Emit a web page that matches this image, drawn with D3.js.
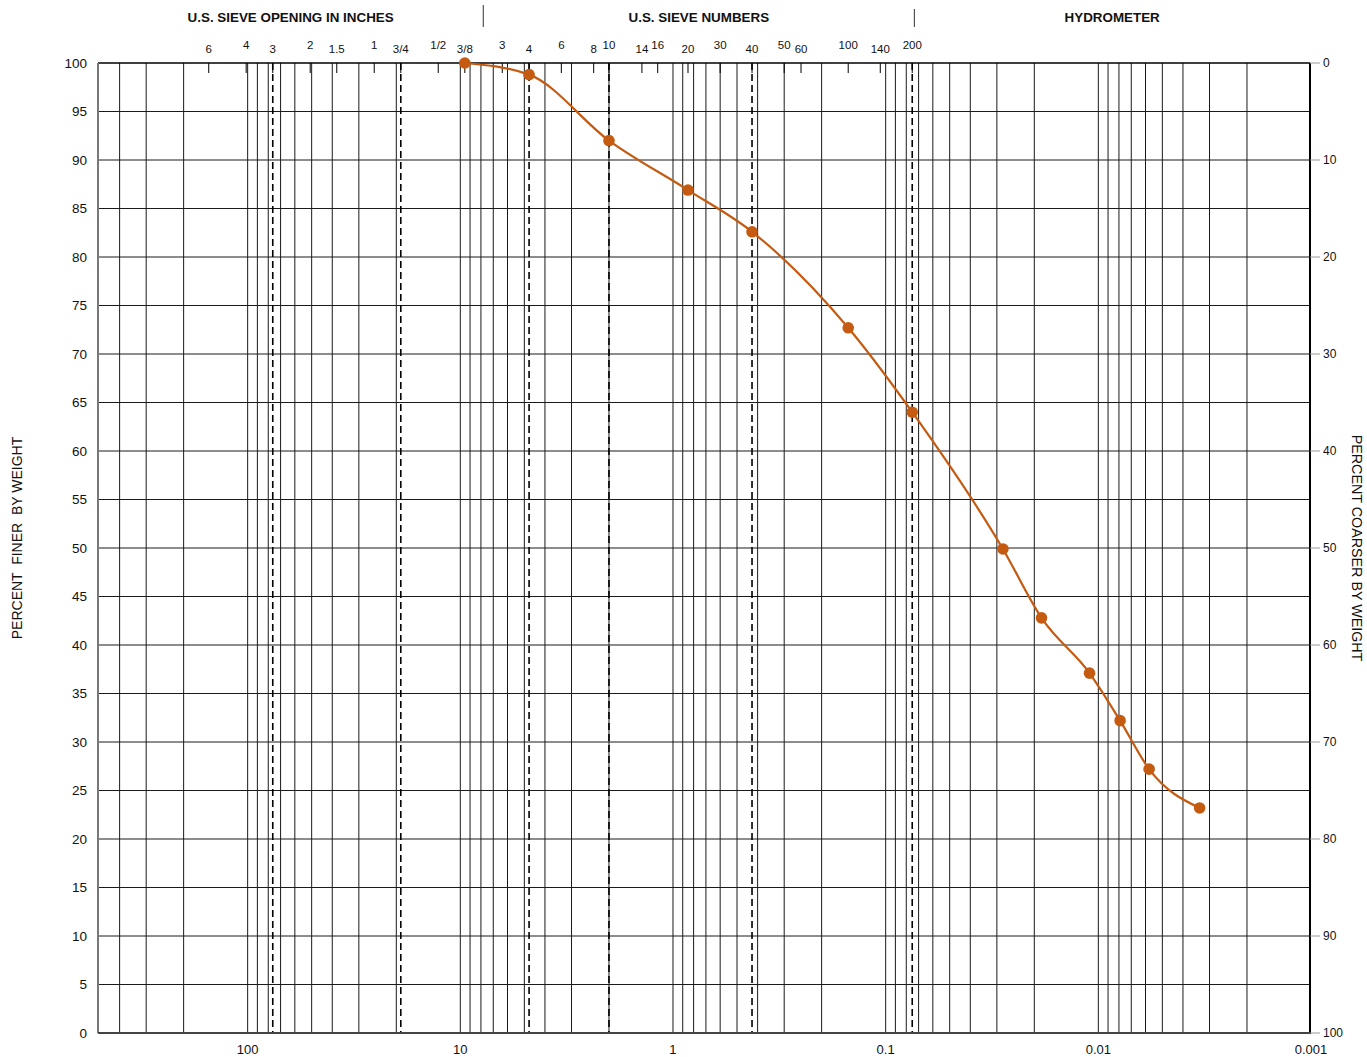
<!DOCTYPE html>
<html>
<head>
<meta charset="utf-8">
<script src="https://cdn.jsdelivr.net/npm/d3@7"></script>
<style>
  body { margin: 0; background: #fff; }
  svg { font-family: "Liberation Sans", Arial, sans-serif; }
</style>
</head>
<body>
<div id="chart"></div>
<script>
// grain size data (mm) and percent finer
const sieveDiam = [9.525, 4.75, 2.0, 0.85, 0.425, 0.15, 0.075];
const sievePassing = [100, 98.8, 92.0, 86.9, 82.6, 72.7, 64.0];
const hydroDiam = [0.0281, 0.0185, 0.0110, 0.0079, 0.00577, 0.00334];
const hydroPassing = [49.9, 42.8, 37.1, 32.2, 27.2, 23.2];

// sieve tick marks along the top
const sieveLabels = ["6", "4", "3", "2", "1.5", "1", "3/4", "1/2", "3/8", "3", "4", "6", "8", "10", "14", "16", "20", "30", "40", "50", "60", "100", "140", "200"];
const sieveSizes = [152.4, 101.6, 76.2, 50.8, 38.1, 25.4, 19.05, 12.7, 9.525, 6.35, 4.75, 3.35, 2.36, 2.0, 1.4, 1.18, 0.85, 0.6, 0.425, 0.3, 0.25, 0.15, 0.106, 0.075];
const dashedSizes = [76.2, 19.05, 4.75, 2.0, 0.425, 0.075];

const headerLabels = ["U.S. SIEVE OPENING IN INCHES", "U.S. SIEVE NUMBERS", "HYDROMETER"];
const headerBreaks = [7.8, 0.0733];

const bottomTicks = [100, 10, 1, 0.1, 0.01, 0.001];
const leftTicks = d3.range(0, 101, 5);
const rightTicks = d3.range(0, 101, 10);

const width = 1367, height = 1057;
const margin = { top: 63, right: 57, bottom: 24, left: 98 };
const x0 = margin.left, x1 = width - margin.right;
const y0 = margin.top, y1 = height - margin.bottom;

const svg = d3.select("#chart").append("svg")
    .attr("width", width)
    .attr("height", height);

const xScale = d3.scaleLog().domain([500, 0.001]).range([x0 + 1, x1 + 1]);
const yScale = d3.scaleLinear().domain([0, 100]).range([y1, y0]);
const yRight = d3.scaleLinear().domain([0, 100]).range([y0, y1]);

// vertical gridlines at 1..9 x 10^k
const gridX = [];
for (let k = -3; k <= 2; k++) {
    for (let m = 1; m <= 9; m++) {
        const v = m * Math.pow(10, k);
        if (v < 500 && v > 0.001) gridX.push(v);
    }
}

svg.append("g").selectAll("line")
    .data(gridX)
    .enter().append("line")
    .attr("x1", d => xScale(d)).attr("x2", d => xScale(d))
    .attr("y1", y0).attr("y2", y1)
    .attr("stroke", "#1a1a1a")
    .attr("stroke-width", 1);

// horizontal gridlines
svg.append("g").selectAll("line")
    .data(leftTicks.filter(d => d > 0 && d < 100))
    .enter().append("line")
    .attr("x1", x0).attr("x2", x1)
    .attr("y1", d => yScale(d)).attr("y2", d => yScale(d))
    .attr("stroke", "#1a1a1a")
    .attr("stroke-width", 1);

// dashed sieve lines
svg.append("g").selectAll("line")
    .data(dashedSizes)
    .enter().append("line")
    .attr("x1", d => xScale(d)).attr("x2", d => xScale(d))
    .attr("y1", y0).attr("y2", y1)
    .attr("stroke", "#000")
    .attr("stroke-width", 1.6)
    .attr("stroke-dasharray", "7,4");

// top border
svg.append("line")
    .attr("x1", x0).attr("x2", x1)
    .attr("y1", y0).attr("y2", y0)
    .attr("stroke", "#000").attr("stroke-width", 1.5);

// sieve ticks along top
svg.append("g").selectAll("line")
    .data(sieveSizes)
    .enter().append("line")
    .attr("x1", d => xScale(d)).attr("x2", d => xScale(d))
    .attr("y1", y0).attr("y2", y0 + 10)
    .attr("stroke", "#000").attr("stroke-width", 1);

svg.append("g").selectAll("text")
    .data(sieveSizes)
    .enter().append("text")
    .attr("x", d => xScale(d))
    .attr("y", (d, i) => i % 2 === 0 ? 53 : 49)
    .attr("text-anchor", "middle")
    .attr("font-size", 11.5)
    .attr("fill", "#111")
    .text((d, i) => sieveLabels[i]);

// header separators and titles
svg.append("g").selectAll("line")
    .data(headerBreaks)
    .enter().append("line")
    .attr("x1", d => xScale(d)).attr("x2", d => xScale(d))
    .attr("y1", (d, i) => i === 0 ? 5 : 9).attr("y2", 27)
    .attr("stroke", "#333").attr("stroke-width", 1);

const edges = [x0, xScale(headerBreaks[0]), xScale(headerBreaks[1]), x1];
svg.append("g").selectAll("text")
    .data(headerLabels)
    .enter().append("text")
    .attr("x", (d, i) => (edges[i] + edges[i + 1]) / 2)
    .attr("y", 22)
    .attr("text-anchor", "middle")
    .attr("font-size", 13.4)
    .attr("font-weight", "bold")
    .attr("fill", "#111")
    .text(d => d);

// left axis
svg.append("line")
    .attr("x1", x0).attr("x2", x0).attr("y1", y0).attr("y2", y1)
    .attr("stroke", "#777").attr("stroke-width", 2);

svg.append("g").selectAll("text")
    .data(leftTicks)
    .enter().append("text")
    .attr("x", x0 - 11)
    .attr("y", d => yScale(d))
    .attr("dy", "0.35em")
    .attr("text-anchor", "end")
    .attr("font-size", 13.5)
    .attr("fill", "#111")
    .text(d => d);

svg.append("text")
    .attr("transform", `translate(22, ${(y0 + y1) / 2 - 10}) rotate(-90)`)
    .attr("text-anchor", "middle")
    .attr("font-size", 14)
    .attr("fill", "#111")
    .attr("xml:space", "preserve")
    .text("PERCENT  FINER  BY WEIGHT");

// right axis
svg.append("line")
    .attr("x1", x1).attr("x2", x1).attr("y1", y0).attr("y2", y1 + 1)
    .attr("stroke", "#000").attr("stroke-width", 2);

svg.append("g").selectAll("line")
    .data(rightTicks)
    .enter().append("line")
    .attr("x1", x1).attr("x2", x1 + 10)
    .attr("y1", d => yRight(d)).attr("y2", d => yRight(d))
    .attr("stroke", "#999").attr("stroke-width", 1);

svg.append("g").selectAll("text")
    .data(rightTicks)
    .enter().append("text")
    .attr("x", x1 + 13)
    .attr("y", d => yRight(d))
    .attr("dy", "0.35em")
    .attr("font-size", 12)
    .attr("fill", "#111")
    .text(d => d);

svg.append("text")
    .attr("transform", `translate(1352, ${(y0 + y1) / 2}) rotate(90)`)
    .attr("text-anchor", "middle")
    .attr("font-size", 14.3)
    .attr("fill", "#111")
    .text("PERCENT COARSER BY WEIGHT");

// bottom axis
svg.append("line")
    .attr("x1", x0).attr("x2", x1).attr("y1", y1).attr("y2", y1)
    .attr("stroke", "#444").attr("stroke-width", 2);

svg.append("g").selectAll("text")
    .data(bottomTicks)
    .enter().append("text")
    .attr("x", d => xScale(d))
    .attr("y", y1 + 21)
    .attr("text-anchor", "middle")
    .attr("font-size", 13)
    .attr("fill", "#111")
    .text(d => d);

// gradation curve
const points = sieveDiam.map((d, i) => ({ d: d, p: sievePassing[i] }))
    .concat(hydroDiam.map((d, i) => ({ d: d, p: hydroPassing[i] })));

const line = d3.line()
    .x(d => xScale(d.d))
    .y(d => yScale(d.p))
    .curve(d3.curveMonotoneX);

svg.append("path")
    .datum(points)
    .attr("fill", "none")
    .attr("stroke", "#c55a11")
    .attr("stroke-width", 2.2)
    .attr("d", line);

svg.append("g").selectAll("circle")
    .data(points)
    .enter().append("circle")
    .attr("cx", d => xScale(d.d))
    .attr("cy", d => yScale(d.p))
    .attr("r", 5.8)
    .attr("fill", "#c55a11");
</script>
</body>
</html>
